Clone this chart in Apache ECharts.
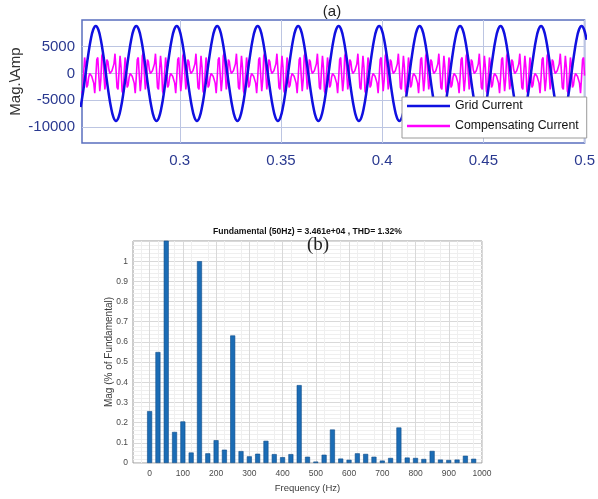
<!DOCTYPE html>
<html><head><meta charset="utf-8">
<script src="https://cdn.jsdelivr.net/npm/echarts@6/dist/echarts.min.js"></script>
<style>html,body{margin:0;padding:0;background:#fff}#c{width:598px;height:499px}</style>
</head><body><div id="c"></div>
<script>
// ---- (a) time-domain currents ----
const timeTicks = [0.3, 0.35, 0.4, 0.45, 0.5];
const ampTicks = [-10000, -5000, 0, 5000];
const gridStart = 0.251, gridStep = 0.00125;
const gridCurrent = [
-6290,-3410,0,3410,6290,8220,8900,8220,6290,3410,0,-3410,-6290,-8220,-8900,-8220,
-6290,-3410,0,3410,6290,8220,8900,8220,6290,3410,0,-3410,-6290,-8220,-8900,-8220,
-6290,-3410,0,3410,6290,8220,8900,8220,6290,3410,0,-3410,-6290,-8220,-8900,-8220,
-6290,-3410,0,3410,6290,8220,8900,8220,6290,3410,0,-3410,-6290,-8220,-8900,-8220,
-6290,-3410,0,3410,6290,8220,8900,8220,6290,3410,0,-3410,-6290,-8220,-8900,-8220,
-6290,-3410,0,3410,6290,8220,8900,8220,6290,3410,0,-3410,-6290,-8220,-8900,-8220,
-6290,-3410,0,3410,6290,8220,8900,8220,6290,3410,0,-3410,-6290,-8220,-8900,-8220,
-6290,-3410,0,3410,6290,8220,8900,8220,6290,3410,0,-3410,-6290,-8220,-8900,-8220,
-6290,-3410,0,3410,6290,8220,8900,8220,6290,3410,0,-3410,-6290,-8220,-8900,-8220,
-6290,-3410,0,3410,6290,8220,8900,8220,6290,3410,0,-3410,-6290,-8220,-8900,-8220,
-6290,-3410,0,3410,6290,8220,8900,8220,6290,3410,0,-3410,-6290,-8220,-8900,-8220,
-6290,-3410,0,3410,6290,8220,8900,8220,6290,3410,0,-3410,-6290,-8220,-8900,-8220,
-6290,-3410,0,3410,6290,8220,8900,8220,6290
];
const compStart = 0.2515, compStep = 0.0005;
const compCurrent = [
-3300,-3800,0,3000,1500,-2600,-2200,-700,
0,-300,-500,-200,-1800,-3700,-800,2600,3000,-400,-3300,-1200,3300,3800,0,-3000,-1500,2600,2200,700,
0,300,500,200,1800,3700,800,-2600,-3000,400,3300,1200,-3300,-3800,0,3000,1500,-2600,-2200,-700,
0,-300,-500,-200,-1800,-3700,-800,2600,3000,-400,-3300,-1200,3300,3800,0,-3000,-1500,2600,2200,700,
0,300,500,200,1800,3700,800,-2600,-3000,400,3300,1200,-3300,-3800,0,3000,1500,-2600,-2200,-700,
0,-300,-500,-200,-1800,-3700,-800,2600,3000,-400,-3300,-1200,3300,3800,0,-3000,-1500,2600,2200,700,
0,300,500,200,1800,3700,800,-2600,-3000,400,3300,1200,-3300,-3800,0,3000,1500,-2600,-2200,-700,
0,-300,-500,-200,-1800,-3700,-800,2600,3000,-400,-3300,-1200,3300,3800,0,-3000,-1500,2600,2200,700,
0,300,500,200,1800,3700,800,-2600,-3000,400,3300,1200,-3300,-3800,0,3000,1500,-2600,-2200,-700,
0,-300,-500,-200,-1800,-3700,-800,2600,3000,-400,-3300,-1200,3300,3800,0,-3000,-1500,2600,2200,700,
0,300,500,200,1800,3700,800,-2600,-3000,400,3300,1200,-3300,-3800,0,3000,1500,-2600,-2200,-700,
0,-300,-500,-200,-1800,-3700,-800,2600,3000,-400,-3300,-1200,3300,3800,0,-3000,-1500,2600,2200,700,
0,300,500,200,1800,3700,800,-2600,-3000,400,3300,1200,-3300,-3800,0,3000,1500,-2600,-2200,-700,
0,-300,-500,-200,-1800,-3700,-800,2600,3000,-400,-3300,-1200,3300,3800,0,-3000,-1500,2600,2200,700,
0,300,500,200,1800,3700,800,-2600,-3000,400,3300,1200,-3300,-3800,0,3000,1500,-2600,-2200,-700,
0,-300,-500,-200,-1800,-3700,-800,2600,3000,-400,-3300,-1200,3300,3800,0,-3000,-1500,2600,2200,700,
0,300,500,200,1800,3700,800,-2600,-3000,400,3300,1200,-3300,-3800,0,3000,1500,-2600,-2200,-700,
0,-300,-500,-200,-1800,-3700,-800,2600,3000,-400,-3300,-1200,3300,3800,0,-3000,-1500,2600,2200,700,
0,300,500,200,1800,3700,800,-2600,-3000,400,3300,1200,-3300,-3800,0,3000,1500,-2600,-2200,-700,
0,-300,-500,-200,-1800,-3700,-800,2600,3000,-400,-3300,-1200,3300,3800,0,-3000,-1500,2600,2200,700,
0,300,500,200,1800,3700,800,-2600,-3000,400,3300,1200,-3300,-3800,0,3000,1500,-2600,-2200,-700,
0,-300,-500,-200,-1800,-3700,-800,2600,3000,-400,-3300,-1200,3300,3800,0,-3000,-1500,2600,2200,700,
0,300,500,200,1800,3700,800,-2600,-3000,400,3300,1200,-3300,-3800,0,3000,1500,-2600,-2200,-700,
0,-300,-500,-200,-1800,-3700,-800,2600,3000,-400,-3300,-1200,3300,3800,0,-3000,-1500,2600,2200,700,
0,300,500,200,1800,3700,800,-2600,-3000,400,3300,1200,-3300,-3800,0,3000,1500,-2600,-2200,-700,
0,-300,-500,-200,-1800,-3700,-800,2600,3000,-400
];
const seriesNames = ['Grid Current', 'Compensating Current'];

// ---- (b) FFT spectrum ----
const freqHz = [0,25,50,75,100,125,150,175,200,225,250,275,300,325,350,375,400,425,450,475,
                500,525,550,575,600,625,650,675,700,725,750,775,800,825,850,875,900,925,950,975];
const magPct = [0.257,0.55,100,0.154,0.206,0.052,1.0,0.048,0.113,0.066,0.632,0.059,0.033,0.046,0.110,0.044,0.029,0.044,0.386,0.031,
                0.007,0.041,0.166,0.022,0.016,0.048,0.045,0.031,0.012,0.025,0.176,0.027,0.025,0.020,0.060,0.017,0.015,0.017,0.036,0.021];
const fftTitle = 'Fundamental (50Hz) = 3.461e+04 , THD= 1.32%';

const gridPairs = gridCurrent.map((v, i) => [gridStart + i * gridStep, v]);
const compPairs = compCurrent.map((v, i) => [compStart + i * compStep, v]);
const barPairs = freqHz.map((f, i) => [f, magPct[i]]);

const FF = 'Arial, "Liberation Sans", Helvetica, sans-serif';
const chart = echarts.init(document.getElementById('c'), null, {renderer: 'canvas'});
chart.setOption({
  backgroundColor: '#ffffff',
  animation: false,
  textStyle: {fontFamily: FF},
  grid: [
    {left: 79, top: 20, width: 507.5, height: 123, show: true, borderColor: '#5a6fbf', borderWidth: 1.5, backgroundColor: '#fff'},
    {left: 133, top: 241, width: 349, height: 222, show: true, borderColor: '#9a9a9a', borderWidth: 1, backgroundColor: '#fff'}
  ],
  legend: {
    data: [{name: seriesNames[0], icon: 'rect'}, {name: seriesNames[1], icon: 'rect'}],
    orient: 'vertical', left: 402, top: 97,
    itemWidth: 43, itemHeight: 2.5, itemGap: 8,
    padding: [3, 8, 6, 5],
    backgroundColor: '#ffffff', borderColor: '#9a9a9a', borderWidth: 1,
    textStyle: {fontSize: 12.3, color: '#111', fontFamily: FF},
    selectedMode: false
  },
  xAxis: [
    {
      gridIndex: 0, type: 'value', min: 0.2517, max: 0.5,
      axisLine: {show: false},
      axisTick: {show: false, customValues: timeTicks},
      axisLabel: {customValues: timeTicks, fontSize: 15, color: '#2a3990', margin: 10,
                  formatter: v => String(+v.toFixed(2))},
      splitLine: {show: true, lineStyle: {color: '#bcc5e2', width: 1}}
    },
    {
      gridIndex: 1, type: 'value', min: -50, max: 1000, interval: 50,
      name: 'Frequency (Hz)', nameLocation: 'middle', nameGap: 20, nameMoveOverlap: false,
      nameTextStyle: {fontSize: 9.5, color: '#3a3a3a'},
      axisLine: {show: false}, axisTick: {show: false},
      axisLabel: {fontSize: 8.5, color: '#4a4a4a', margin: 6,
                  formatter: v => (Math.round(v) % 100 === 0 && v >= 0) ? String(Math.round(v)) : ''},
      splitLine: {show: true, lineStyle: {color: ['rgba(0,0,0,0)', '#d9d9d9'], width: 1}},
      minorTick: {show: false, splitNumber: 2},
      minorSplitLine: {show: true, lineStyle: {color: '#efefef', width: 1}}
    }
  ],
  yAxis: [
    {
      gridIndex: 0, type: 'value', min: -13000, max: 10000,
      name: 'Mag.\\Amp', nameLocation: 'middle', nameGap: 59, nameMoveOverlap: false,
      nameTextStyle: {fontSize: 15, color: '#333'},
      axisLine: {show: false},
      axisTick: {show: false, customValues: ampTicks},
      axisLabel: {customValues: ampTicks, fontSize: 15, color: '#2a3990', margin: 7,
                  formatter: v => String(v)},
      splitLine: {show: true, lineStyle: {color: '#bcc5e2', width: 1}}
    },
    {
      gridIndex: 1, type: 'value', min: 0, max: 1.1, interval: 0.1,
      name: 'Mag (% of Fundamental)', nameLocation: 'middle', nameGap: 19, nameMoveOverlap: false,
      nameTextStyle: {fontSize: 10, color: '#3a3a3a'},
      axisLine: {show: false}, axisTick: {show: false},
      axisLabel: {fontSize: 8.5, color: '#4a4a4a', margin: 5,
                  formatter: v => v > 1.05 ? '' : String(Math.round(v * 10) / 10)},
      splitLine: {show: true, lineStyle: {color: '#d9d9d9', width: 1}},
      minorTick: {show: false, splitNumber: 5},
      minorSplitLine: {show: true, lineStyle: {color: '#efefef', width: 1}}
    }
  ],
  series: [
    {
      name: seriesNames[0], type: 'line', xAxisIndex: 0, yAxisIndex: 0,
      data: gridPairs, showSymbol: false, symbol: 'none', smooth: 0.4, clip: true,
      lineStyle: {color: '#1010e0', width: 2.5}, itemStyle: {color: '#1010e0'}, z: 3
    },
    {
      name: seriesNames[1], type: 'line', xAxisIndex: 0, yAxisIndex: 0,
      data: compPairs, showSymbol: false, symbol: 'none', clip: true,
      lineStyle: {color: '#ff00ff', width: 1.6}, itemStyle: {color: '#ff00ff'}, z: 2
    },
    {
      type: 'bar', xAxisIndex: 1, yAxisIndex: 1, data: barPairs, barWidth: 5, clip: true,
      itemStyle: {color: '#1b6cb5', borderColor: '#0f4c88', borderWidth: 0.6}
    }
  ],
  graphic: [
    {type: 'text', x: 332, y: 12, z: 100,
     style: {text: '(a)', fontSize: 15, fontFamily: FF, fill: '#222', align: 'center', verticalAlign: 'middle', textAlign: 'center', textVerticalAlign: 'middle'}},
    {type: 'text', x: 307.5, y: 232, z: 100,
     style: {text: fftTitle, fontSize: 8.6, fontWeight: 'bold', fontFamily: FF, fill: '#111', align: 'center', verticalAlign: 'middle', textAlign: 'center', textVerticalAlign: 'middle'}},
    {type: 'text', x: 318, y: 245, z: 100,
     style: {text: '(b)', fontSize: 19, fontFamily: '"Liberation Serif", "Times New Roman", serif', fill: '#222', align: 'center', verticalAlign: 'middle', textAlign: 'center', textVerticalAlign: 'middle'}}
  ]
});
</script></body></html>
